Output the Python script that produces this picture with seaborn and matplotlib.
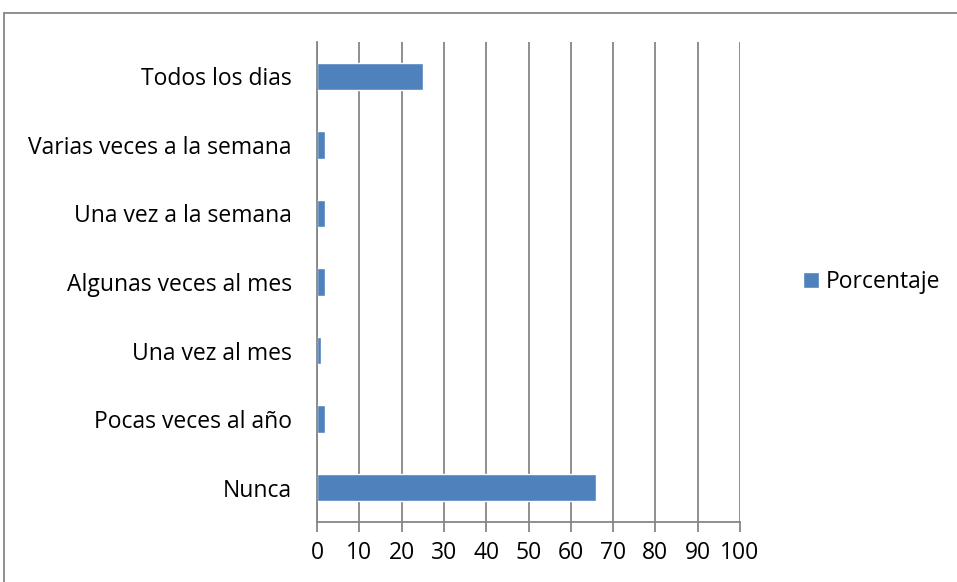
import matplotlib
matplotlib.use("Agg")
import matplotlib.pyplot as plt
import seaborn as sns
import pandas as pd
import numpy as np
from matplotlib.patches import Rectangle

categorias = ["Todos los dias", "Varias veces a la semana", "Una vez a la semana",
              "Algunas veces al mes", "Una vez al mes", "Pocas veces al año", "Nunca"]
porcentaje = [25, 2, 2, 2, 1, 2, 66]

df = pd.DataFrame({"categoria": categorias, "Porcentaje": porcentaje})

sns.set_style("white")
plt.rcParams["font.family"] = ["Open Sans", "DejaVu Sans"]
plt.rcParams["text.color"] = "black"

fig = plt.figure(figsize=(9.57, 5.82), dpi=100)
ax = fig.add_axes([317 / 957, 1 - 522 / 582, (740 - 317) / 957, (522 - 42) / 582])

sns.barplot(data=df, y="categoria", x="Porcentaje", color="#4F81BD",
            width=0.4, ax=ax, label="Porcentaje", saturation=1)

grey = "#868686"
fs = 16.5
ax.set_xlim(0, 100)
ax.set_ylim(len(categorias) - 0.5, -0.5)
ax.set_xticks(np.arange(0, 101, 10))
ax.set_xlabel("")
ax.set_ylabel("")
ax.grid(axis="x", color=grey, linewidth=1.3)
ax.set_axisbelow(True)
for s in ["top", "right"]:
    ax.spines[s].set_visible(False)
for s in ["left", "bottom"]:
    ax.spines[s].set_color(grey)
    ax.spines[s].set_linewidth(1.3)

ax.set_yticks(np.arange(-0.5, len(categorias), 1), minor=True)
ax.tick_params(axis="y", which="major", length=0, pad=18, labelsize=fs, labelcolor="black")
ax.tick_params(axis="y", which="minor", length=7, width=1.3, color=grey, direction="out")
ax.tick_params(axis="x", which="major", length=7, width=1.3, color=grey, direction="out",
               labelsize=fs, pad=7, bottom=True, labelcolor="black")

leg = ax.legend(loc="center left", bbox_to_anchor=(1.1, 0.5), frameon=False,
                fontsize=fs, handlelength=0.7, handleheight=0.7, handletextpad=0.3)

fig.patches.append(Rectangle((4 / 957, -0.1), 1.2, 1 - 13 / 582 + 0.1,
                             transform=fig.transFigure, fill=False,
                             edgecolor=grey, linewidth=1.3))

fig.savefig("out.png", dpi=100)
